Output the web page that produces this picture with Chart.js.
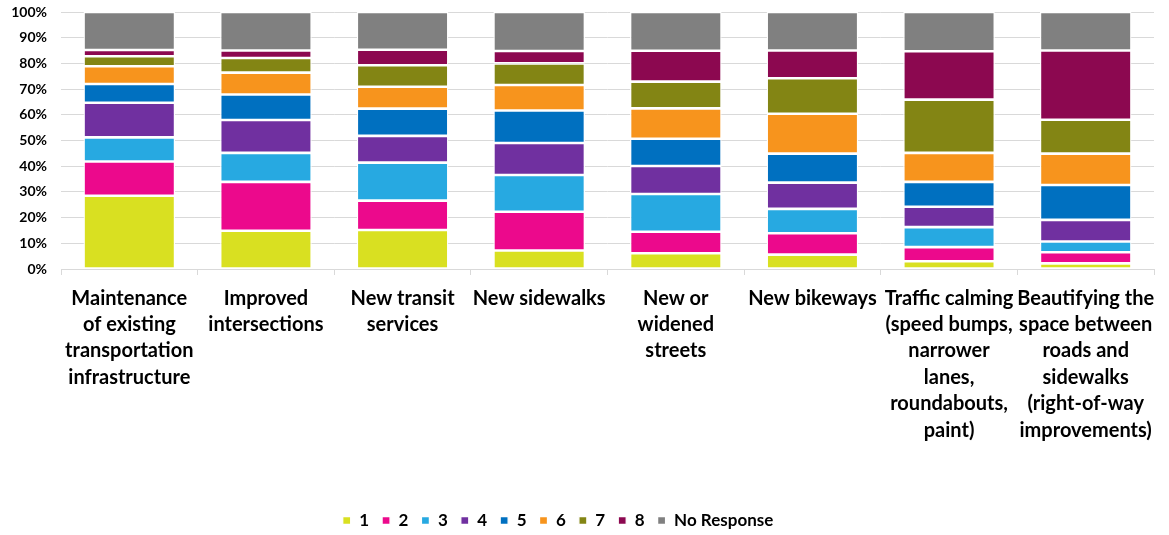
<!DOCTYPE html>
<html>
<head>
<meta charset="utf-8">
<script src="https://cdn.jsdelivr.net/npm/chart.js@4"></script>
<style>
  html, body { margin: 0; padding: 0; background: #ffffff; }
  #wrap { width: 1169px; height: 535px; position: relative; }
</style>
</head>
<body>
<div id="wrap"><canvas id="c"></canvas></div>
<script>
const categories = [
  ["Maintenance", "of existing", "transportation", "infrastructure"],
  ["Improved", "intersections"],
  ["New transit", "services"],
  ["New sidewalks"],
  ["New or", "widened", "streets"],
  ["New bikeways"],
  ["Traffic calming", "(speed bumps,", "narrower", "lanes,", "roundabouts,", "paint)"],
  ["Beautifying the", "space between", "roads and", "sidewalks", "(right-of-way", "improvements)"]
];
const seriesNames = ["1", "2", "3", "4", "5", "6", "7", "8", "No Response"];
const rank1 = [28.5, 14.9, 15.2, 7.2, 6.1, 5.6, 3.0, 2.2];
const rank2 = [13.3, 19.0, 11.4, 15.1, 8.4, 8.3, 5.5, 4.3];
const rank3 = [9.4, 11.3, 14.8, 14.3, 14.7, 9.5, 7.8, 4.2];
const rank4 = [13.5, 12.8, 10.4, 12.4, 10.9, 10.2, 7.9, 8.4];
const rank5 = [7.3, 9.9, 10.6, 12.7, 10.6, 11.3, 9.7, 13.6];
const rank6 = [6.9, 8.5, 8.5, 9.9, 11.8, 15.5, 11.3, 12.2];
const rank7 = [3.9, 5.7, 8.4, 8.4, 10.4, 13.8, 20.7, 13.2];
const rank8 = [2.4, 2.9, 6.0, 4.8, 12.0, 10.8, 18.8, 26.9];
const noResponse = [14.8, 15.0, 14.7, 15.2, 15.1, 15.0, 15.3, 15.0];
const yTicks = [0, 10, 20, 30, 40, 50, 60, 70, 80, 90, 100];
const colors = ["#D9E021", "#EC098C", "#27A9E1", "#7030A0", "#0070C0", "#F7941D", "#838514", "#8C0850", "#808080"];

const seriesValues = [rank1, rank2, rank3, rank4, rank5, rank6, rank7, rank8, noResponse];
const FONT = "Lato, 'Liberation Sans', sans-serif";

const datasets = seriesValues.map((vals, i) => ({
  label: seriesNames[i],
  data: vals,
  backgroundColor: colors[i],
  borderColor: "#ffffff",
  borderWidth: 1.3,
  borderSkipped: false,
  barPercentage: 0.67,
  categoryPercentage: 1.0
}));

const legendShift = {
  id: 'legendShift',
  afterLayout(chart) {
    if (chart.legend) {
      chart.legend.left -= 19;
      chart.legend.right -= 19;
    }
  }
};

new Chart(document.getElementById('c'), {
  type: 'bar',
  data: { labels: categories, datasets: datasets },
  plugins: [legendShift],
  options: {
    responsive: true,
    maintainAspectRatio: false,
    animation: false,
    layout: { padding: { top: 0, right: 15, left: 0, bottom: -4 } },
    plugins: {
      tooltip: { enabled: false },
      legend: {
        position: 'bottom',
        labels: {
          boxWidth: 8,
          boxHeight: 8,
          padding: 13,
          color: '#000000',
          font: { family: FONT, size: 17, weight: 'bold' }
        }
      }
    },
    scales: {
      x: {
        stacked: true,
        grid: {
          offset: true,
          drawOnChartArea: false,
          drawTicks: true,
          tickLength: 6,
          color: '#D9D9D9'
        },
        border: { color: '#D9D9D9', width: 1 },
        ticks: {
          color: '#000000',
          maxRotation: 0,
          minRotation: 0,
          autoSkip: false,
          padding: 10,
          font: { family: FONT, size: 20, weight: 'bold', lineHeight: 1.32 }
        },
        afterFit: (scale) => { scale.height = 230; }
      },
      y: {
        stacked: true,
        min: 0,
        max: 100,
        afterBuildTicks: (scale) => { scale.ticks = yTicks.map(v => ({ value: v })); },
        grid: { color: '#D9D9D9', lineWidth: 1, drawTicks: false },
        border: { display: false },
        ticks: {
          color: '#000000',
          padding: 14,
          callback: (v) => v + '%',
          font: { family: FONT, size: 14, weight: 'bold' }
        },
        afterFit: (scale) => { scale.width = 61; scale.paddingTop = 12; scale.paddingBottom = 8; }
      }
    }
  }
});
</script>
</body>
</html>
